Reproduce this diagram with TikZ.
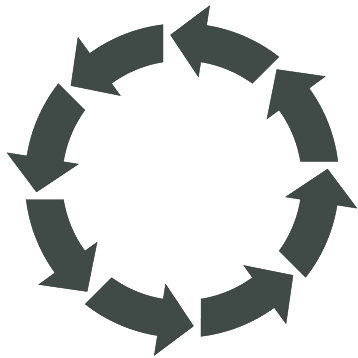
\documentclass[tikz,border=0pt]{standalone}
\definecolor{arrowgray}{RGB}{64,74,71}
\tikzset{ringarrow/.style={fill=arrowgray, draw=arrowgray!80!black, line width=0.4pt, line join=miter}}
\begin{document}
\begin{tikzpicture}
\useasboundingbox (0pt,0pt) rectangle (358pt,-357pt);
\begin{scope}[shift={(182pt,-180.5pt)}]
\foreach \k in {0,...,7}{
  \begin{scope}[rotate=\k*45]
    \filldraw[ringarrow] (6.95:157pt) arc[start angle=6.95, end angle=36, radius=157pt]
      -- (36:177pt) -- (49.5:146pt) -- (36:105pt) -- (36:120pt)
      arc[start angle=36, end angle=9.11, radius=120pt] -- cycle;
  \end{scope}
}
\end{scope}
\end{tikzpicture}
\end{document}
